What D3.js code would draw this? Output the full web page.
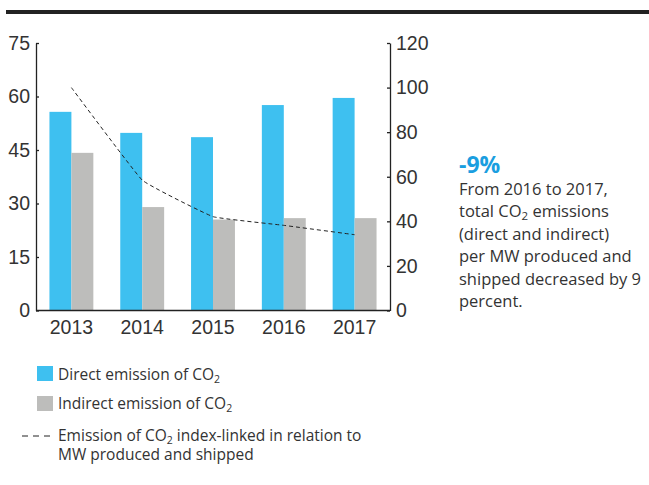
<!DOCTYPE html>
<html>
<head>
<meta charset="utf-8">
<script src="https://cdn.jsdelivr.net/npm/d3@7"></script>
<style>
  body { margin: 0; background: #fff; }
  svg { display: block; font-family: "Open Sans", sans-serif; }
</style>
</head>
<body>
<svg id="chart" width="649" height="485"></svg>
<script>
var years = ['2013', '2014', '2015', '2016', '2017'];
var direct = [55.7, 49.8, 48.6, 57.6, 59.6];
var indirect = [44.2, 29.0, 25.5, 25.9, 25.9];
var indexLinked = [100, 58.5, 42.1, 38.2, 34.0];
var leftTicks = [0, 15, 30, 45, 60, 75];
var rightTicks = [0, 20, 40, 60, 80, 100, 120];

var blue = '#3ec0f0', grey = '#bdbdbb', ink = '#333';

var svg = d3.select('#chart');

// black rule across the top
svg.append('rect').attr('x', 6).attr('y', 10).attr('width', 643).attr('height', 4).attr('fill', '#222');

var x = d3.scaleBand().domain(years).range([36, 390]).paddingInner(0.38).paddingOuter(0.19);
var sub = d3.scaleBand().domain(['direct', 'indirect']).range([0, x.bandwidth()]);
var yL = d3.scaleLinear().domain([0, 75]).range([310.5, 43]);
var yR = d3.scaleLinear().domain([0, 120]).range([310.5, 43]);

var rows = years.map(function (y, i) {
  return { year: y, direct: direct[i], indirect: indirect[i], idx: indexLinked[i] };
});

var g = svg.append('g');
g.selectAll('.bd').data(rows).enter().append('rect')
  .attr('x', function (d) { return x(d.year) + sub('direct'); })
  .attr('y', function (d) { return yL(d.direct); })
  .attr('width', sub.bandwidth())
  .attr('height', function (d) { return yL(0) - yL(d.direct); })
  .attr('fill', blue);
g.selectAll('.bi').data(rows).enter().append('rect')
  .attr('x', function (d) { return x(d.year) + sub('indirect'); })
  .attr('y', function (d) { return yL(d.indirect); })
  .attr('width', sub.bandwidth())
  .attr('height', function (d) { return yL(0) - yL(d.indirect); })
  .attr('fill', grey);

var line = d3.line()
  .x(function (d) { return x(d.year) + x.bandwidth() / 2; })
  .y(function (d) { return yR(d.idx); })
  .curve(d3.curveCardinal.tension(0.75));
g.append('path').datum(rows).attr('d', line)
  .attr('fill', 'none').attr('stroke', '#222').attr('stroke-width', 1)
  .attr('stroke-dasharray', '4,3');

// axes
function styleAxis(sel) {
  sel.select('.domain').attr('stroke', '#222').attr('stroke-width', 1.3);
  sel.selectAll('.tick line').attr('stroke', '#222').attr('stroke-width', 1.3);
  sel.selectAll('.tick text').attr('fill', ink).style('font-size', '19.5px');
}
var axL = svg.append('g').attr('transform', 'translate(36,0)')
  .call(d3.axisRight(yL).tickValues(leftTicks).tickSize(3).tickSizeOuter(0));
styleAxis(axL);
axL.selectAll('.tick text').attr('x', -6).attr('text-anchor', 'end');

var axR = svg.append('g').attr('transform', 'translate(390,0)')
  .call(d3.axisLeft(yR).tickValues(rightTicks).tickSize(3).tickSizeOuter(0));
styleAxis(axR);
axR.selectAll('.tick text').attr('x', 6).attr('text-anchor', 'start');

var axB = svg.append('g').attr('transform', 'translate(0,310.5)')
  .call(d3.axisBottom(x).tickSize(0).tickSizeOuter(0).tickPadding(10));
styleAxis(axB);
axB.select('.domain').attr('d', 'M36,0H390');

// note on the right
var note = svg.append('g').attr('fill', ink).style('font-size', '16.5px');
note.append('text').attr('x', 459).attr('y', 173).attr('fill', '#1a9ee0')
  .style('font-size', '23px').style('font-weight', 'bold').text('-9%');
var noteLines = [
  ['From 2016 to 2017,'],
  ['total CO', '2', ' emissions'],
  ['(direct and indirect)'],
  ['per MW produced and'],
  ['shipped decreased by 9'],
  ['percent.']
];
noteLines.forEach(function (parts, i) {
  var t = note.append('text').attr('x', 459).attr('y', 195 + i * 22.4);
  parts.forEach(function (p, j) {
    var s = t.append('tspan').text(p);
    if (j === 1) s.style('font-size', '11.5px').attr('dy', 3);
    if (j === 2) s.attr('dy', -3);
  });
});

// legend
var leg = svg.append('g').attr('fill', ink).style('font-size', '15.5px');
leg.append('rect').attr('x', 37).attr('y', 366).attr('width', 16).attr('height', 15).attr('fill', blue);
leg.append('rect').attr('x', 37).attr('y', 396).attr('width', 16).attr('height', 15).attr('fill', grey);
leg.append('line').attr('x1', 22).attr('x2', 53).attr('y1', 436).attr('y2', 436)
  .attr('stroke', '#222').attr('stroke-width', 1).attr('stroke-dasharray', '6,5');
function co2(before, after, y) {
  var t = leg.append('text').attr('x', 58).attr('y', y);
  t.append('tspan').text(before + 'CO');
  t.append('tspan').text('2').style('font-size', '10.5px').attr('dy', 3);
  t.append('tspan').text(after).attr('dy', -3);
}
co2('Direct emission of ', '', 380);
co2('Indirect emission of ', '', 409);
co2('Emission of ', ' index-linked in relation to', 441);
leg.append('text').attr('x', 58).attr('y', 460).text('MW produced and shipped');
</script>
</body>
</html>
